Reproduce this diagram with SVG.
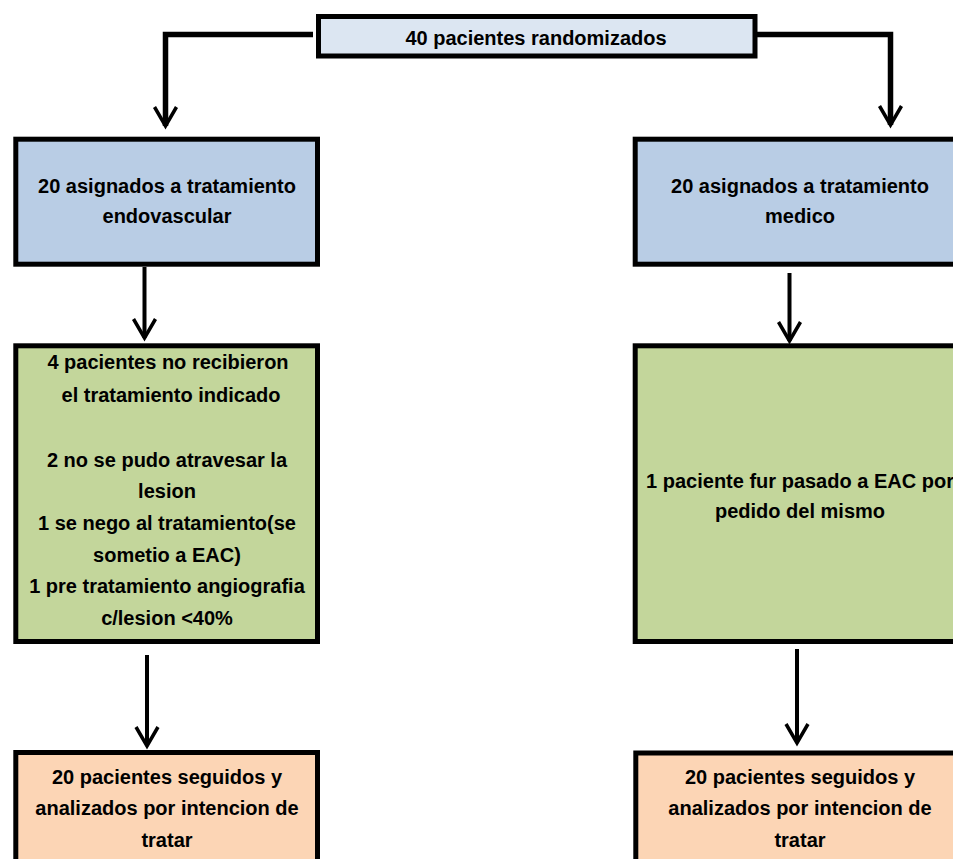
<svg xmlns="http://www.w3.org/2000/svg" width="953" height="859" viewBox="0 0 953 859">
<style>
.box{stroke:#000;stroke-width:5}
.top{fill:#DCE6F2}
.blue{fill:#B9CDE5}
.green{fill:#C3D69B}
.orange{fill:#FCD5B5}
text{font-family:"Liberation Sans",Arial,sans-serif;font-weight:bold;font-size:20px;fill:#000;text-anchor:middle}
.conn{fill:none;stroke:#000;stroke-width:5.5;stroke-linejoin:miter}
.shaft{fill:none;stroke:#000;stroke-width:4}
</style>
<defs>
<marker id="arr" markerUnits="userSpaceOnUse" markerWidth="24" markerHeight="26" viewBox="0 0 24 26" refX="21" refY="13" orient="auto" overflow="visible">
<path d="M2,2 L21,13 L2,24" fill="none" stroke="#000" stroke-width="3.5"/>
</marker>
</defs>
<rect width="953" height="859" fill="#fff"/>
<g id="connectors">
<path class="conn" d="M313,34.5 H165.5 V126" marker-end="url(#arr)"/>
<path class="conn" d="M757,34.5 H890.5 V125" marker-end="url(#arr)"/>
<path class="shaft" d="M144.5,267 V338" marker-end="url(#arr)"/>
<path class="shaft" d="M789.5,273 V341" marker-end="url(#arr)"/>
<path class="shaft" d="M147,655 V746" marker-end="url(#arr)"/>
<path class="shaft" d="M797,649 V743" marker-end="url(#arr)"/>
</g>
<g id="n_random">
<rect class="box top" x="318.5" y="16.5" width="436.5" height="39.5"/>
<text x="536" y="45">40 pacientes randomizados</text>
</g>
<g id="n_endo">
<rect class="box blue" x="15.8" y="139.2" width="301.7" height="125"/>
<text x="167" y="193">20 asignados a tratamiento</text>
<text x="167" y="223">endovascular</text>
</g>
<g id="n_medico">
<rect class="box blue" x="635.2" y="139.2" width="330" height="125"/>
<text x="800" y="193">20 asignados a tratamiento</text>
<text x="800" y="223">medico</text>
</g>
<g id="n_endo_detail">
<rect class="box green" x="15.8" y="345.8" width="301.7" height="295.7"/>
<text x="168" y="369">4 pacientes no recibieron</text>
<text x="171" y="402">el tratamiento indicado</text>
<text x="167" y="467">2 no se pudo atravesar la</text>
<text x="167" y="498">lesion</text>
<text x="167" y="530">1 se nego al tratamiento(se</text>
<text x="167" y="562">sometio a EAC)</text>
<text x="167" y="593">1 pre tratamiento angiografia</text>
<text x="167" y="625">c/lesion &lt;40%</text>
</g>
<g id="n_medico_detail">
<rect class="box green" x="635.2" y="345.8" width="330" height="295.7"/>
<text x="800" y="488">1 paciente fur pasado a EAC por</text>
<text x="800" y="518">pedido del mismo</text>
</g>
<g id="n_endo_itt">
<rect class="box orange" x="15.8" y="752.5" width="301.7" height="120"/>
<text x="167" y="784">20 pacientes seguidos y</text>
<text x="167" y="815">analizados por intencion de</text>
<text x="167" y="847">tratar</text>
</g>
<g id="n_medico_itt">
<rect class="box orange" x="635.8" y="753" width="330" height="120"/>
<text x="800" y="784">20 pacientes seguidos y</text>
<text x="800" y="815">analizados por intencion de</text>
<text x="800" y="847">tratar</text>
</g>
</svg>
